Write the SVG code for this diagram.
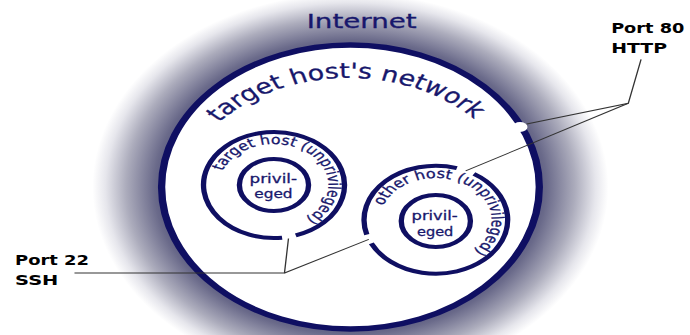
<svg xmlns="http://www.w3.org/2000/svg" width="690" height="335" viewBox="0 0 690 335">
<defs>
<radialGradient id="halo" gradientUnits="userSpaceOnUse" cx="263.5" cy="187" r="194">
<stop offset="0.72" stop-color="#5a5a80"/>
<stop offset="0.76" stop-color="#6a6a8a"/>
<stop offset="0.87" stop-color="#acacbc"/>
<stop offset="0.95" stop-color="#e6e6ec"/>
<stop offset="1" stop-color="#ffffff"/>
</radialGradient>
<path id="netArc" d="M164.6,122.4 A129,129 0 0 1 356.3,119"/>
<path id="tArc" d="M167.47,170.98 A41,41 0 1 1 230.1,218.17"/>
<path id="oArc" d="M288.23,205.64 A42,42 0 1 1 356.34,250.72"/>
</defs>
<style>
.ring{fill:none;stroke:#0f0f62;stroke-width:4}
.navy{fill:#17176c;stroke:#17176c;stroke-width:0.3;font-family:"DejaVu Sans",sans-serif}
.lbl{fill:#000;font-family:"DejaVu Sans",sans-serif;font-weight:bold;font-size:14px}
.conn{stroke:#333;stroke-width:1;fill:none}
</style>
<rect width="690" height="335" fill="#fff"/>
<g transform="scale(1.33,1)">
<g id="internet">
<circle cx="263.5" cy="187" r="194" fill="url(#halo)"/>
<text class="navy" x="230.6" y="28.5" font-size="19" textLength="82.7" lengthAdjust="spacingAndGlyphs">Internet</text>
</g>
<g id="network">
<circle cx="263.5" cy="187" r="142" fill="#fff" stroke="#0f0f62" stroke-width="5.5"/>
<text class="navy" font-size="21"><textPath href="#netArc" textLength="216" lengthAdjust="spacingAndGlyphs">target host's network</textPath></text>
<ellipse cx="391" cy="127" rx="5.6" ry="5" fill="#fff"/>
</g>
<g id="target-host">
<path class="ring" d="M212.09,237.65 A53,53 0 1 1 222.38,235.41"/>
<text class="navy" font-size="13"><textPath href="#tArc" textLength="153" lengthAdjust="spacingAndGlyphs">target host (unprivileged)</textPath></text>
<circle class="ring" cx="206" cy="185" r="26"/>
<text class="navy" font-size="12.5" text-anchor="middle" x="205.5" y="183" textLength="35.7" lengthAdjust="spacingAndGlyphs">privil-</text>
<text class="navy" font-size="12.5" text-anchor="middle" x="205.6" y="198.5" textLength="28.8" lengthAdjust="spacingAndGlyphs">eged</text>
</g>
<g id="other-host">
<path class="ring" d="M356.32,173.91 A54,54 0 1 1 279.17,243.37"/>
<path class="ring" d="M275.79,234.58 A54,54 0 0 1 343.49,168.06"/>
<text class="navy" font-size="13"><textPath href="#oArc" textLength="151.7" lengthAdjust="spacingAndGlyphs">other host (unprivileged)</textPath></text>
<circle class="ring" cx="327.7" cy="221" r="26"/>
<text class="navy" font-size="12.5" text-anchor="middle" x="326.8" y="220.5" textLength="34.7" lengthAdjust="spacingAndGlyphs">privil-</text>
<text class="navy" font-size="12.5" text-anchor="middle" x="327.2" y="236" textLength="27.3" lengthAdjust="spacingAndGlyphs">eged</text>
</g>
<g id="connectors">
<polyline class="conn" points="56,273 213.9,273 216.9,238.5"/>
<line class="conn" x1="213.9" y1="273" x2="277.3" y2="239.4"/>
<polyline class="conn" points="482,59.3 472.4,103.3 396,124"/>
<line class="conn" x1="472.4" y1="103.3" x2="350.1" y2="170.9"/>
</g>
<g id="port80">
<text class="lbl" x="459.5" y="33.3" textLength="55" lengthAdjust="spacingAndGlyphs">Port 80</text>
<text class="lbl" x="459.5" y="53.3" textLength="42" lengthAdjust="spacingAndGlyphs">HTTP</text>
</g>
<g id="port22">
<text class="lbl" x="11.3" y="265" textLength="55.6" lengthAdjust="spacingAndGlyphs">Port 22</text>
<text class="lbl" x="11.3" y="285" textLength="32.6" lengthAdjust="spacingAndGlyphs">SSH</text>
</g>
</g>
</svg>
